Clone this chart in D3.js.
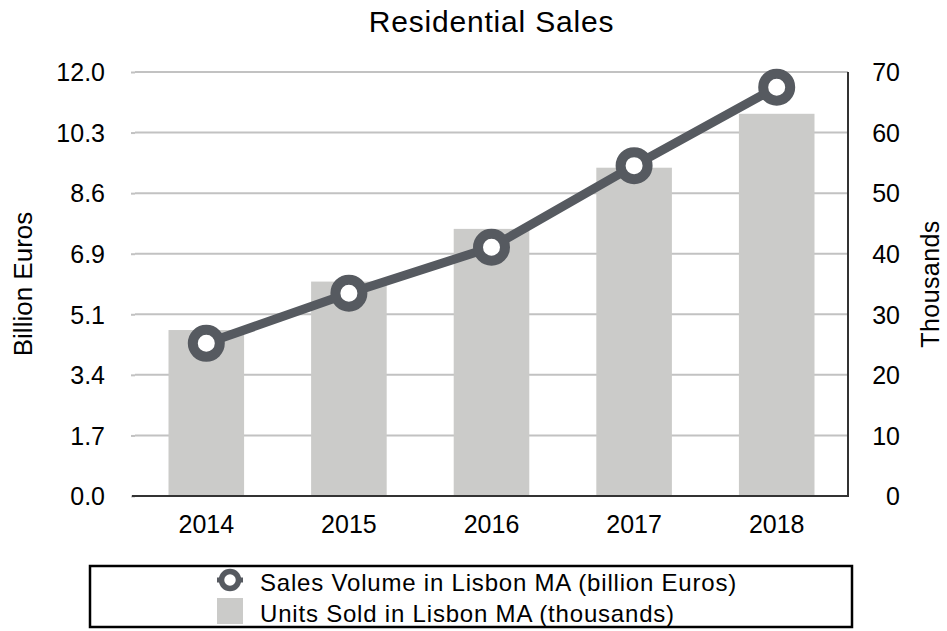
<!DOCTYPE html>
<html>
<head>
<meta charset="utf-8">
<script src="https://cdn.jsdelivr.net/npm/d3@7"></script>
<style>
  body { margin: 0; background: #fff; }
  text { font-family: "Liberation Sans", Arial, Helvetica, sans-serif; fill: #000; }
</style>
</head>
<body>
<div id="chart"></div>
<script>
const width = 947
const height = 631

// datos
const years = ["2014", "2015", "2016", "2017", "2018"]
const salesVolume = [4.32, 5.74, 7.04, 9.35, 11.57]   // billion euros
const unitsSold = [27.4, 35.4, 44.1, 54.2, 63.1]      // thousands
const leftTicks = [0, 1.714, 3.429, 5.143, 6.857, 8.571, 10.286, 12]
const rightTicks = [0, 10, 20, 30, 40, 50, 60, 70]

const margin = { top: 72, right: 99, bottom: 135, left: 135 }
const plotW = width - margin.left - margin.right
const plotH = height - margin.top - margin.bottom

const lineColor = "#565a60"
const barColor = "#cbcbc9"
const gridColor = "#c2c2c2"

const svg = d3.select("#chart").append("svg")
    .attr("width", width)
    .attr("height", height)

const x = d3.scaleBand()
    .domain(years)
    .range([0, plotW])
    .paddingInner(0.47)
    .paddingOuter(0.235)

const yLeft = d3.scaleLinear().domain([0, 12]).range([plotH, 0])
const yRight = d3.scaleLinear().domain([0, 70]).range([plotH, 0])

const g = svg.append("g")
    .attr("transform", `translate(${margin.left},${margin.top})`)

// titulo
svg.append("text")
    .attr("x", margin.left + plotW / 2)
    .attr("y", 32)
    .attr("text-anchor", "middle")
    .style("font-size", "30px")
    .style("letter-spacing", "0.8px")
    .text("Residential Sales")

// grid
g.append("g")
    .selectAll("line")
    .data(rightTicks.slice(1))
    .join("line")
    .attr("x1", 0)
    .attr("x2", plotW)
    .attr("y1", d => yRight(d))
    .attr("y2", d => yRight(d))
    .attr("stroke", gridColor)
    .attr("stroke-width", 2)

// barras
g.append("g")
    .selectAll("rect")
    .data(years)
    .join("rect")
    .attr("x", d => x(d))
    .attr("width", x.bandwidth())
    .attr("y", (d, i) => yRight(unitsSold[i]))
    .attr("height", (d, i) => plotH - yRight(unitsSold[i]))
    .attr("fill", barColor)

// eje izquierdo
const axisLeft = g.append("g")
    .call(d3.axisLeft(yLeft).tickValues(leftTicks).tickFormat(d3.format(".1f")).tickSize(4).tickPadding(26))
axisLeft.select(".domain").remove()
axisLeft.selectAll(".tick line").attr("stroke", gridColor).attr("stroke-width", 2)
axisLeft.selectAll("text").style("font-size", "25px").attr("dy", "0.35em")

// eje derecho
const axisRight = g.append("g")
    .attr("transform", `translate(${plotW},0)`)
    .call(d3.axisRight(yRight).tickValues(rightTicks).tickSize(0).tickPadding(52))
axisRight.select(".domain").remove()
axisRight.selectAll("text").attr("text-anchor", "end").style("font-size", "25px").attr("dy", "0.35em")

g.append("line")
    .attr("x1", plotW).attr("x2", plotW)
    .attr("y1", 0).attr("y2", plotH)
    .attr("stroke", "#333")
    .attr("stroke-width", 2)

// eje x
const axisBottom = g.append("g")
    .attr("transform", `translate(0,${plotH})`)
    .call(d3.axisBottom(x).tickSize(0).tickPadding(19))
axisBottom.select(".domain").attr("stroke", "#333").attr("stroke-width", 2).attr("d", `M-3,0H${plotW + 1}`)
axisBottom.selectAll("text").style("font-size", "25px")

// linea
const line = d3.line()
    .x((d, i) => x(years[i]) + x.bandwidth() / 2)
    .y(d => yLeft(d))

g.append("path")
    .datum(salesVolume)
    .attr("d", line)
    .attr("fill", "none")
    .attr("stroke", lineColor)
    .attr("stroke-width", 9)

g.append("g")
    .selectAll("circle")
    .data(salesVolume)
    .join("circle")
    .attr("cx", (d, i) => x(years[i]) + x.bandwidth() / 2)
    .attr("cy", d => yLeft(d))
    .attr("r", 13.5)
    .attr("fill", "white")
    .attr("stroke", lineColor)
    .attr("stroke-width", 10)

// titulos de ejes
svg.append("text")
    .attr("transform", `translate(32,${margin.top + plotH / 2}) rotate(-90)`)
    .attr("text-anchor", "middle")
    .style("font-size", "26px")
    .text("Billion Euros")

svg.append("text")
    .attr("transform", `translate(939,${margin.top + plotH / 2}) rotate(-90)`)
    .attr("text-anchor", "middle")
    .style("font-size", "25px")
    .style("letter-spacing", "0.4px")
    .text("Thousands")

// leyenda
const legend = svg.append("g")
legend.append("rect")
    .attr("x", 90).attr("y", 566)
    .attr("width", 762).attr("height", 61)
    .attr("fill", "white")
    .attr("stroke", "#000")
    .attr("stroke-width", 2.5)

legend.append("line")
    .attr("x1", 217).attr("x2", 243)
    .attr("y1", 580).attr("y2", 580)
    .attr("stroke", lineColor)
    .attr("stroke-width", 5)
legend.append("circle")
    .attr("cx", 230).attr("cy", 580)
    .attr("r", 8.5)
    .attr("fill", "white")
    .attr("stroke", lineColor)
    .attr("stroke-width", 5.5)
legend.append("text")
    .attr("x", 260).attr("y", 591)
    .style("font-size", "24px")
    .style("letter-spacing", "0.8px")
    .text("Sales Volume in Lisbon MA (billion Euros)")

legend.append("rect")
    .attr("x", 217).attr("y", 598)
    .attr("width", 26).attr("height", 26)
    .attr("fill", barColor)
legend.append("text")
    .attr("x", 260).attr("y", 622)
    .style("font-size", "24px")
    .style("letter-spacing", "0.8px")
    .text("Units Sold in Lisbon MA (thousands)")
</script>
</body>
</html>
